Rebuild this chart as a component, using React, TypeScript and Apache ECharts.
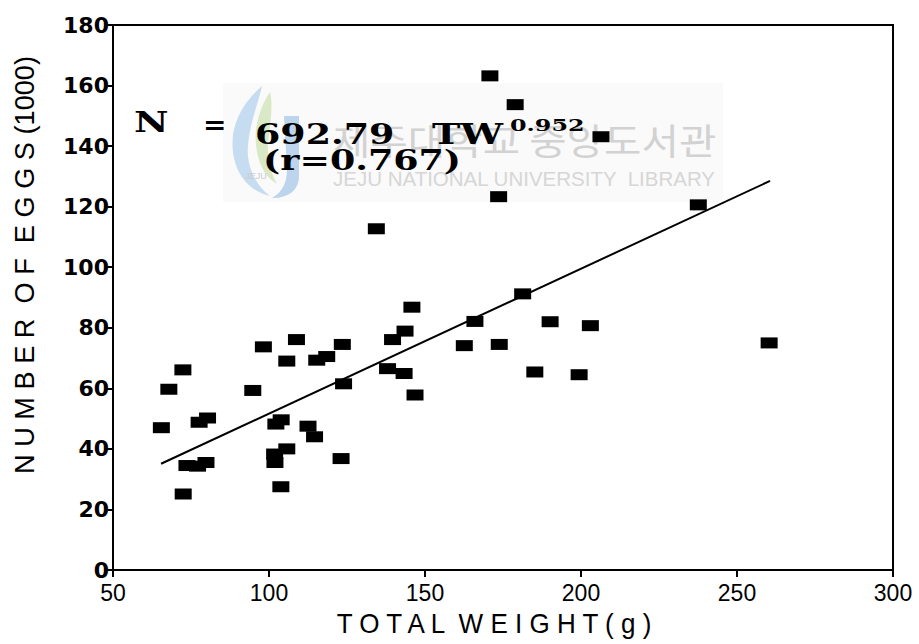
import React, { useEffect, useRef } from "react";
import * as echarts from "echarts";

// ---- data ----
const totalWeight = [
  65.5, 67.9, 72.4, 72.5, 73.7, 77.1, 79.8, 77.6, 80.3, 94.8,
  98.2, 108.8, 105.7, 115.3, 118.5, 102.2, 103.9, 112.5, 114.6, 101.8,
  105.7, 101.9, 103.8, 123.1, 123.5, 123.9, 145.8, 143.6, 139.6, 138.0,
  143.3, 146.8, 134.4, 162.6, 166.0, 173.8, 181.3, 190.1, 203.0, 185.2,
  199.4, 173.6, 170.8, 178.9, 206.4, 237.6, 260.3,
];
const numberOfEggs = [
  47.0, 59.7, 66.1, 25.1, 34.5, 34.3, 35.5, 48.8, 50.2, 59.3,
  73.7, 76.1, 69.0, 69.3, 70.5, 48.2, 49.6, 47.5, 44.0, 38.3,
  40.0, 35.5, 27.5, 36.8, 74.5, 61.5, 86.8, 78.9, 76.1, 66.5,
  64.9, 57.8, 112.7, 74.1, 82.1, 74.5, 91.2, 82.0, 80.7, 65.4,
  64.5, 123.3, 163.2, 153.7, 143.1, 120.6, 75.0,
];
const fitWeight = [65.4, 260.6];
const fitEggs = [35.1, 128.5];

const xMin = 50, xMax = 300, xStep = 50;
const yMin = 0, yMax = 180, yStep = 20;

const xTitle = "T O T A L  W E I G H T ( g )";
const yTitle = "N U M B E R  O F  E G G S (1000)";
const eqLeft = "N";
const eqSign = "=";
const eqCoef = "692.79";
const eqVar = "TW";
const eqExp = "0.952";
const eqR = "(r=0.767)";
const wmKorean = "제주대학교 중앙도서관";
const wmEnglish = "JEJU NATIONAL UNIVERSITY  LIBRARY";
const wmLogo = "JEJU";

let shapesRegistered = false;
function registerShapes() {
  if (shapesRegistered) return;
  shapesRegistered = true;
  echarts.graphic.registerShape(
    "wmSwooshA",
    echarts.graphic.extendPath(
      "M262,86 C240,105 228,130 234,158 C238,178 252,192 270,196 C255,185 246,165 248,145 C250,122 258,104 262,86 Z",
      {}
    )
  );
  echarts.graphic.registerShape(
    "wmSwooshB",
    echarts.graphic.extendPath(
      "M270,92 C258,110 253,132 257,152 C260,168 267,178 277,184 C269,170 266,152 269,134 C271,118 273,104 270,92 Z",
      {}
    )
  );
  echarts.graphic.registerShape(
    "wmSwooshC",
    echarts.graphic.extendPath(
      "M284,116 L299,116 L299,176 C299,190 289,198 272,198 C284,191 287,181 287,168 Z",
      {}
    )
  );
}

function txt(
  text: string,
  x: number,
  y: number,
  size: number,
  family: string,
  weight: string,
  fill: string,
  opts: any = {}
) {
  const align = opts.align || "left";
  return {
    type: "text",
    x,
    y,
    z: opts.z ?? 10,
    scaleX: opts.scaleX ?? 1,
    rotation: opts.rotation ?? 0,
    silent: true,
    style: {
      text,
      fontSize: size,
      fontFamily: family,
      fontWeight: weight,
      fill,
      opacity: opts.opacity ?? 1,
      align,
      textAlign: align,
      verticalAlign: "middle",
      textVerticalAlign: "middle",
    },
  };
}

export default function App() {
  const ref = useRef<HTMLDivElement>(null);

  useEffect(() => {
    if (!ref.current) return;
    registerShapes();
    const chart = echarts.init(ref.current, undefined, { renderer: "svg" });

    const points = totalWeight.map((w, i) => [w, numberOfEggs[i]]);
    const fitLine = fitWeight.map((w, i) => [w, fitEggs[i]]);

    const serif = '"DejaVu Serif", serif';
    const sans = '"Liberation Sans", Arial, sans-serif';

    chart.setOption({
      animation: false,
      backgroundColor: "#ffffff",
      grid: {
        left: 113,
        right: 26,
        top: 25,
        bottom: 74,
        show: true,
        borderColor: "#000",
        borderWidth: 2,
        backgroundColor: "transparent",
        z: 0,
      },
      xAxis: {
        type: "value",
        min: xMin,
        max: xMax,
        interval: xStep,
        axisLine: { show: true, lineStyle: { color: "#000", width: 2 } },
        axisTick: { show: true, length: 7, lineStyle: { color: "#000", width: 2 } },
        splitLine: { show: false },
        axisLabel: {
          color: "#000",
          fontSize: 23,
          fontFamily: sans,
          margin: 11,
        },
      },
      yAxis: {
        type: "value",
        min: yMin,
        max: yMax,
        interval: yStep,
        axisLine: { show: true, lineStyle: { color: "#000", width: 2 } },
        axisTick: { show: true, length: 7, lineStyle: { color: "#000", width: 2 } },
        splitLine: { show: false },
        axisLabel: {
          color: "#000",
          fontSize: 22,
          fontWeight: "bold",
          fontFamily: '"DejaVu Sans", sans-serif',
          margin: 4,
        },
      },
      series: [
        {
          type: "line",
          data: fitLine,
          showSymbol: false,
          symbol: "none",
          lineStyle: { color: "#000", width: 2 },
          z: 3,
          silent: true,
        },
        {
          type: "scatter",
          data: points,
          symbol: "rect",
          symbolSize: [17, 11],
          itemStyle: { color: "#000", opacity: 1 },
          z: 4,
          silent: true,
        },
      ],
      graphic: [
        // watermark (behind)
        {
          type: "rect",
          shape: { x: 223, y: 83, width: 500, height: 119 },
          style: { fill: "#fafafa" },
          z: -10,
          silent: true,
        },
        { type: "wmSwooshA", x: 0, y: 0, z: -9, silent: true, style: { fill: "#c6dcf1" } },
        { type: "wmSwooshB", x: 0, y: 0, z: -9, silent: true, style: { fill: "#d9e9c6" } },
        { type: "wmSwooshC", x: 0, y: 0, z: -9, silent: true, style: { fill: "#bcd4ec" } },
        txt(wmLogo, 256, 176, 9, sans, "normal", "#cccccc", { align: "center", z: -8 }),
        txt(wmKorean, 333, 139, 36, '"Noto Sans CJK KR", sans-serif', "normal", "#d2d2d2", {
          z: -8,
          scaleX: 1.13,
        }),
        txt(wmEnglish, 333, 178, 20.5, sans, "normal", "#d6d6d6", { z: -8 }),
        // equation
        txt(eqLeft, 134, 122, 28, serif, "bold", "#000", { scaleX: 1.35 }),
        txt(eqSign, 203, 124, 28, serif, "bold", "#000", { scaleX: 1.0 }),
        txt(eqCoef, 255, 135, 28, serif, "bold", "#000", { scaleX: 1.3 }),
        txt(eqVar, 432, 134, 28, serif, "bold", "#000", { scaleX: 1.36 }),
        txt(eqExp, 510, 125, 17, serif, "bold", "#000", { scaleX: 1.4 }),
        txt(eqR, 263, 161, 28, serif, "bold", "#000", { scaleX: 1.3 }),
        // axis titles
        txt(xTitle, 494, 624, 28, sans, "normal", "#000", { align: "center", scaleX: 0.93 }),
        txt(yTitle, 24, 265, 28, sans, "normal", "#000", {
          align: "center",
          scaleX: 0.97,
          rotation: Math.PI / 2,
        }),
      ],
    });

    return () => chart.dispose();
  }, []);

  return (
    <div
      ref={ref}
      style={{ position: "fixed", left: 0, top: 0, width: 919, height: 644, background: "#fff" }}
    />
  );
}
